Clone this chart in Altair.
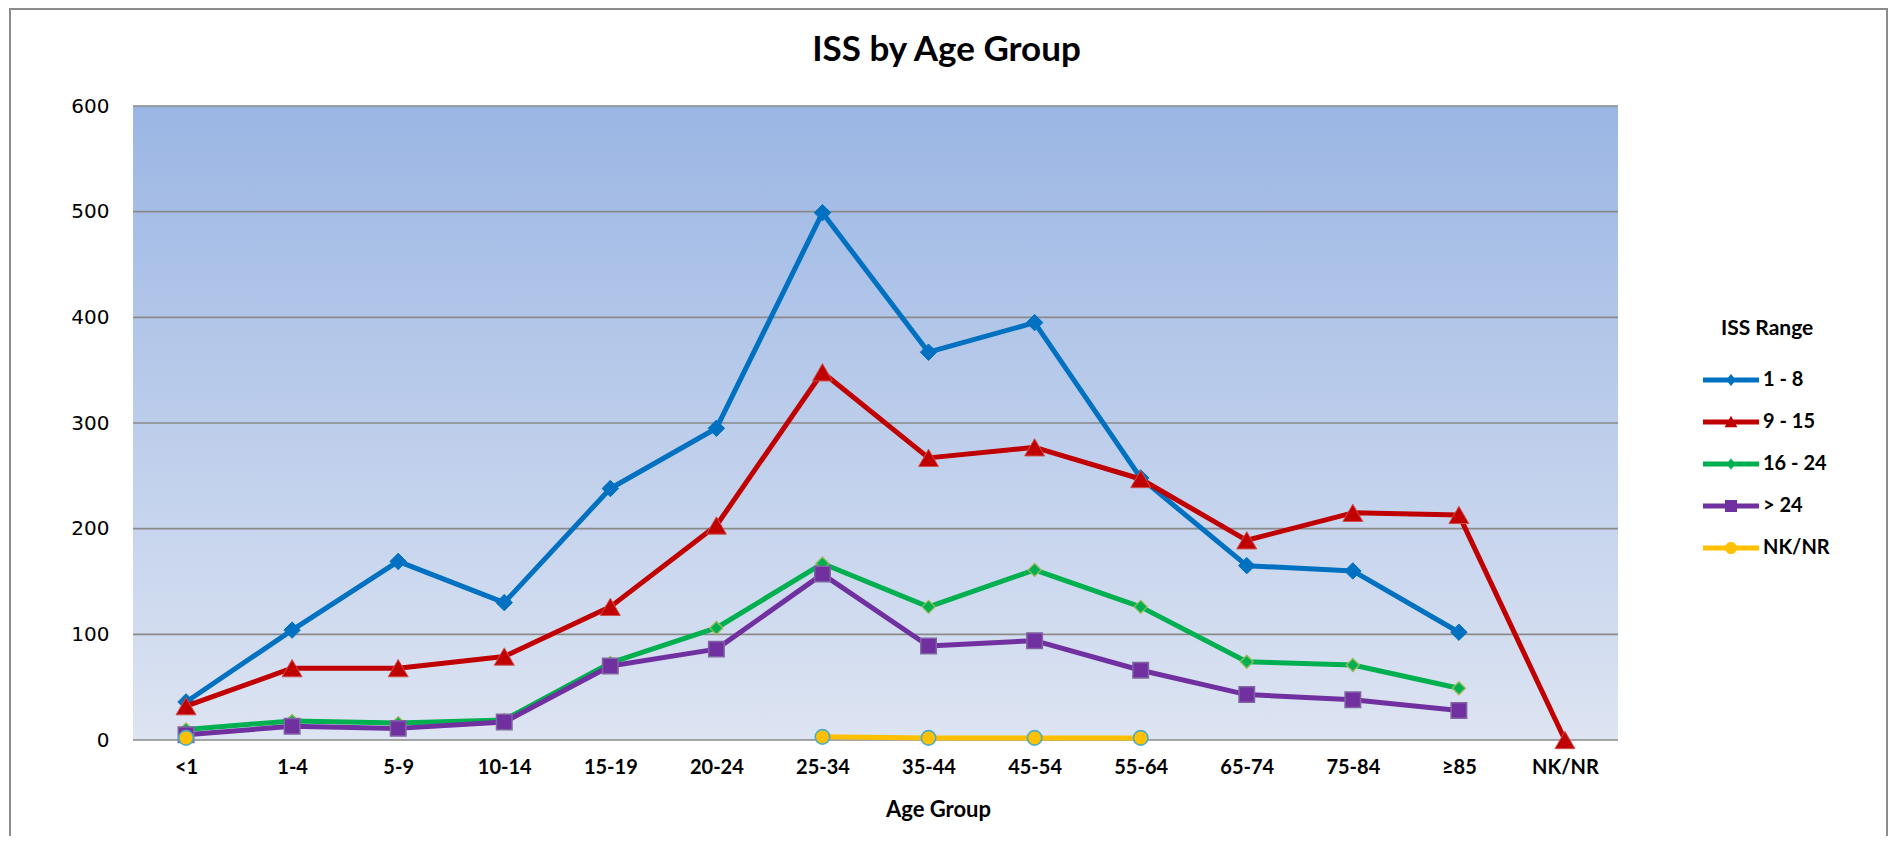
import altair as alt
import pandas as pd

# ---------------- data ----------------
ages = ["<1", "1-4", "5-9", "10-14", "15-19", "20-24", "25-34", "35-44",
        "45-54", "55-64", "65-74", "75-84", "≥85", "NK/NR"]
series_names = ["1 - 8", "9 - 15", "16 - 24", "> 24", "NK/NR"]
iss_1_8 = [36, 104, 169, 130, 238, 295, 499, 367, 395, 248, 165, 160, 102, None]
iss_9_15 = [32, 68, 68, 79, 126, 203, 348, 267, 277, 247, 189, 215, 213, 0]
iss_16_24 = [10, 18, 16, 19, 73, 106, 167, 126, 161, 126, 74, 71, 49, None]
iss_gt_24 = [5, 13, 11, 17, 70, 86, 157, 89, 94, 66, 43, 38, 28, None]
iss_nk_nr = [2, None, None, None, None, None, 3, 2, 2, 2, None, None, None, None]
y_ticks = [0, 100, 200, 300, 400, 500, 600]

all_values = [iss_1_8, iss_9_15, iss_16_24, iss_gt_24, iss_nk_nr]

rows = []
for name, vals in zip(series_names, all_values):
    seg = 0
    gap = True
    for a, v in zip(ages, vals):
        if v is None:
            gap = True
            continue
        if gap:
            seg += 1
            gap = False
        rows.append({"Age": a, "Series": name, "Value": v, "seg": f"{name}-{seg}"})
df = pd.DataFrame(rows)
grid_df = pd.DataFrame({"Value": y_ticks})

# ---------------- styles ----------------
line_colors = ["#0070C0", "#C00000", "#00B050", "#7030A0", "#FFC000"]
marker_shapes = ["diamond", "triangle-up", "diamond", "square", "circle"]
marker_sizes = [270, 400, 170, 240, 210]
marker_strokes = ["#0070C0", "#D0504D", "#9BBB59", "#8064A2", "#4BACC6"]
marker_stroke_w = [1, 1, 1.3, 1.5, 1.6]

bar = "M-2.8,-0.25H2.8V0.25H-2.8Z"
legend_paths = [
    bar + " M0,-0.6L0.5,0L0,0.6L-0.5,0Z",
    bar + " M0,-0.62L0.64,0.52L-0.64,0.52Z",
    bar + " M0,-0.55L0.48,0L0,0.55L-0.48,0Z",
    bar + " M-0.6,-0.6H0.6V0.6H-0.6Z",
    bar + " M0.6,0A0.6,0.6,0,1,1,-0.6,0A0.6,0.6,0,1,1,0.6,0Z",
]

W, H = 1485, 634
PAD = {"left": 125, "top": 98, "right": 271, "bottom": 96}

x_enc = alt.X(
    "Age:N",
    sort=ages,
    scale=alt.Scale(domain=ages, type="point", padding=0.5),
    axis=alt.Axis(
        title="Age Group", grid=False, ticks=False, domain=False,
        labelFont="Lato", labelFontSize=20, labelFontWeight="bold",
        labelColor="black", labelPadding=17, labelAngle=0,
        titleFont="Lato", titleFontSize=22, titleFontWeight="bold",
        titleColor="black", titleX=805, titleY=69,
        titleAlign="center", titleBaseline="middle",
    ),
)
y_scale = alt.Scale(domain=[0, 600], nice=False)
y_enc = alt.Y(
    "Value:Q",
    scale=y_scale,
    axis=alt.Axis(
        title=None, values=y_ticks, grid=False, domain=False, ticks=False,
        labelFont="DejaVu Sans", labelFontSize=20, labelColor="black",
        labelPadding=24,
    ),
)

gradient = alt.LinearGradient(
    gradient="linear",
    stops=[alt.GradientStop(color="#9BB6E4", offset=0),
           alt.GradientStop(color="#DDE4F2", offset=1)],
    x1=0, x2=0, y1=0, y2=1,
)

layers = []
border = alt.Chart(pd.DataFrame({"b": [0]})).mark_rect(
    fill="transparent", stroke="#8C8C8C", strokeWidth=2
).encode(
    x=alt.value(-123), x2=alt.value(W + PAD["right"] - 2),
    y=alt.value(-97), y2=alt.value(H + PAD["bottom"] + 30),
)
bg = alt.Chart(pd.DataFrame({"b": [0]})).mark_rect(fill=gradient).encode(
    x=alt.value(0), x2=alt.value(W), y=alt.value(0), y2=alt.value(H),
)
grid = alt.Chart(grid_df).mark_rule(color="#8A8A8A", strokeWidth=1.6).encode(y=y_enc)
layers += [border, bg, grid]

for i, name in enumerate(series_names):
    base = alt.Chart(df).transform_filter(alt.datum.Series == name)
    line = base.mark_line(
        color=line_colors[i], strokeWidth=5, strokeJoin="round", strokeCap="round"
    ).encode(x=x_enc, y=y_enc, detail="seg:N")
    pts = base.mark_point(
        shape=marker_shapes[i], size=marker_sizes[i], filled=True,
        fill=line_colors[i], stroke=marker_strokes[i],
        strokeWidth=marker_stroke_w[i], opacity=1,
    ).encode(x=x_enc, y=y_enc)
    layers += [line, pts]

leg = alt.Legend(
    title="ISS Range", orient="none", legendX=1588, legendY=212,
    titleFont="Lato", titleFontSize=21, titleFontWeight="bold",
    titleColor="black", titlePadding=31, titleAnchor="start",
    labelFont="Lato", labelFontSize=20, labelFontWeight="bold",
    labelColor="black", labelOffset=22, symbolSize=400,
    rowPadding=22, padding=0, symbolStrokeWidth=0, symbolOpacity=1,
)
legend_layer = alt.Chart(df).transform_filter("false").mark_point(
    filled=True, size=400, opacity=1, strokeWidth=0
).encode(
    color=alt.Color("Series:N", scale=alt.Scale(domain=series_names, range=line_colors), legend=leg),
    shape=alt.Shape("Series:N", scale=alt.Scale(domain=series_names, range=legend_paths), legend=leg),
)
layers.append(legend_layer)

chart = alt.layer(*layers).properties(
    width=W, height=H,
    autosize=alt.AutoSizeParams(type="none"),
    padding=PAD,
    background="white",
    title=alt.Title(
        "ISS by Age Group", font="Lato", fontSize=35, fontWeight="bold",
        color="black", anchor="middle", dx=71, dy=60, offset=0,
    ),
).configure_view(stroke="transparent")

chart.save("out.html", embed_options={"renderer": "svg", "actions": False})
